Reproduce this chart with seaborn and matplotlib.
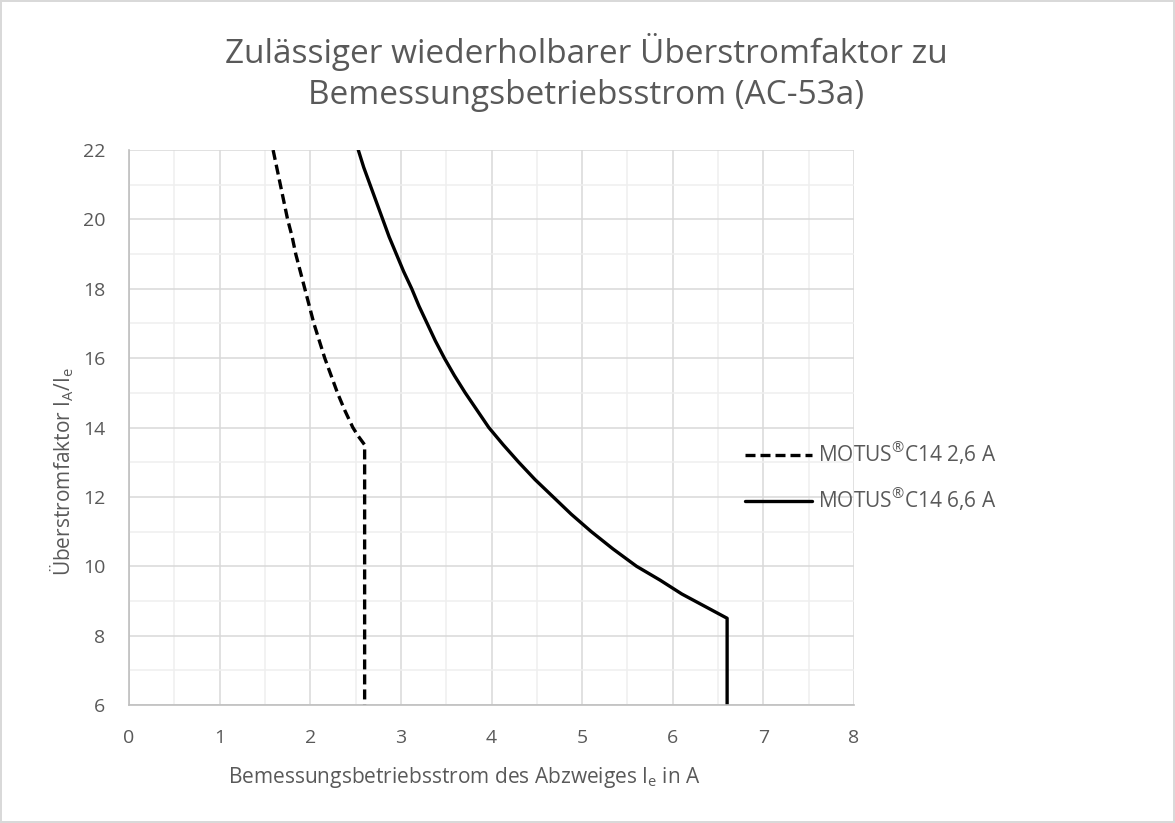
import matplotlib.pyplot as plt
import seaborn as sns
import pandas as pd
from matplotlib.ticker import MultipleLocator

# Values
x_26 = [1.59, 1.63, 1.67, 1.71, 1.75, 1.80, 1.84, 1.89, 1.94, 1.99, 2.04,
        2.10, 2.16, 2.23, 2.30, 2.38, 2.47, 2.53, 2.60, 2.60]
y_26 = [22, 21.5, 21, 20.5, 20, 19.5, 19, 18.5, 18, 17.5, 17,
        16.5, 16, 15.5, 15, 14.5, 14, 13.75, 13.5, 6]

x_66 = [2.53, 2.59, 2.66, 2.73, 2.80, 2.87, 2.95, 3.03, 3.12, 3.20, 3.29,
        3.38, 3.48, 3.59, 3.71, 3.84, 3.97, 4.13, 4.30, 4.48, 4.68, 4.88,
        5.10, 5.34, 5.60, 5.86, 6.10, 6.35, 6.60, 6.60]
y_66 = [22, 21.5, 21, 20.5, 20, 19.5, 19, 18.5, 18, 17.5, 17,
        16.5, 16, 15.5, 15, 14.5, 14, 13.5, 13, 12.5, 12, 11.5,
        11, 10.5, 10, 9.6, 9.2, 8.85, 8.5, 6]

labels = ["MOTUS$^{\\mathregular{®}}$C14 2,6 A", "MOTUS$^{\\mathregular{®}}$C14 6,6 A"]

sns.set_style("white")
plt.rcParams['font.family'] = ['Open Sans', 'DejaVu Sans']
plt.rcParams['mathtext.fontset'] = 'custom'
plt.rcParams['mathtext.rm'] = 'Open Sans'
plt.rcParams['mathtext.it'] = 'Open Sans'

text_col = '#595959'

df = pd.concat([
    pd.DataFrame({'x': x_26, 'y': y_26, 'series': labels[0]}),
    pd.DataFrame({'x': x_66, 'y': y_66, 'series': labels[1]}),
])

fig = plt.figure(figsize=(11.75, 8.23), dpi=100)
fig.patch.set_edgecolor('#d9d9d9')
fig.patch.set_linewidth(1.5)
ax = fig.add_axes([0.1098, 0.1434, 0.617, 0.6743])

sns.lineplot(data=df, x='x', y='y', hue='series', style='series',
             palette=['black', 'black'], dashes=[(3, 1.5), ''],
             sort=False, estimator=None, linewidth=2.4, ax=ax)

ax.set_xlim(0, 8)
ax.set_ylim(6, 22)
ax.xaxis.set_major_locator(MultipleLocator(1))
ax.xaxis.set_minor_locator(MultipleLocator(0.5))
ax.yaxis.set_major_locator(MultipleLocator(2))
ax.yaxis.set_minor_locator(MultipleLocator(1))
ax.grid(which='major', color='#d9d9d9', linewidth=1.1)
ax.grid(which='minor', color='#efefef', linewidth=1.1)
ax.set_axisbelow(True)

for s in ['top', 'right']:
    ax.spines[s].set_visible(False)
for s in ['left', 'bottom']:
    ax.spines[s].set_color('#bfbfbf')
    ax.spines[s].set_linewidth(1.2)

ax.tick_params(which='both', direction='out', color='#bfbfbf', length=6,
               width=1.1, labelsize=14, labelcolor=text_col)
ax.tick_params(axis='x', which='both', pad=11)
ax.tick_params(axis='y', which='both', pad=11)

ax.set_xlabel(r"Bemessungsbetriebsstrom des Abzweiges I$_\mathregular{e}$ in A",
              fontsize=15, color=text_col)
ax.set_ylabel(r"Überstromfaktor I$_\mathregular{A}$/I$_\mathregular{e}$",
              fontsize=15, color=text_col)
ax.xaxis.set_label_coords(0.462, -0.131)
ax.xaxis.label.set_va('center')
ax.yaxis.set_label_coords(-0.092, 0.42)
ax.yaxis.label.set_va('center')

fig.text(0.499, 0.912,
         "Zulässiger wiederholbarer Überstromfaktor zu\nBemessungsbetriebsstrom (AC-53a)",
         fontsize=24, color=text_col, ha='center', va='center', linespacing=1.3)

handles, _ = ax.get_legend_handles_labels()
ax.legend(handles, labels, loc='center left', bbox_to_anchor=(0.618, 0.421),
          bbox_transform=fig.transFigure, frameon=False, fontsize=15,
          labelcolor=text_col, handlelength=3.2, handletextpad=0.3,
          labelspacing=0.9)

fig.savefig('out.png', dpi=100)
